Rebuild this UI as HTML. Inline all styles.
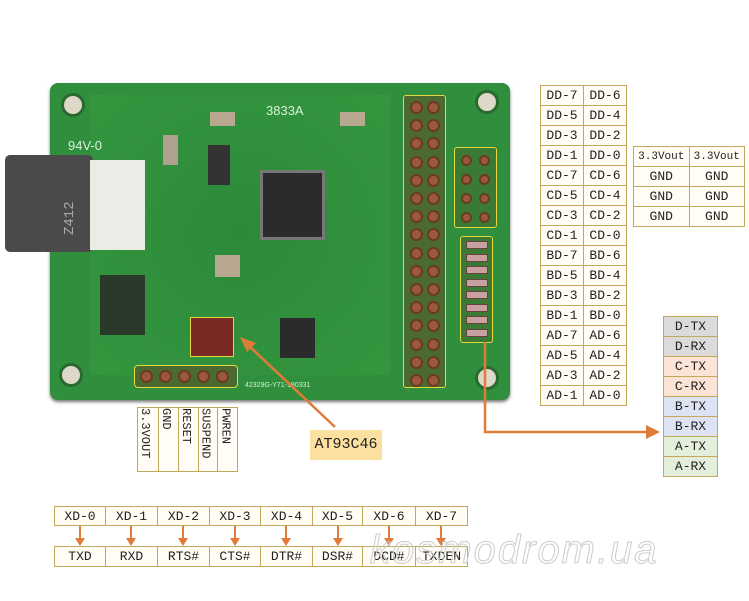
<!DOCTYPE html><html><head><meta charset="utf-8"><style>
body{margin:0;width:749px;height:601px;background:#fff;position:relative;overflow:hidden;font-family:"Liberation Serif","Noto Serif CJK SC",serif;}
.a{position:absolute;box-sizing:border-box}
table{position:absolute;border-collapse:collapse;font-family:"Liberation Mono",monospace;font-size:13px;color:#222}
td{border:1.5px solid #c2a95a;text-align:center;padding:0;background:#fffdf6}
.fx{table-layout:fixed}
.hole{position:absolute;width:9px;height:9px;border-radius:50%;background:#9a5a3a;border:2px solid #6b3a22;box-sizing:border-box}
.mh{position:absolute;width:24px;height:24px;border-radius:50%;background:#ddd8c8;border:3px solid #2a6a30;box-sizing:border-box}
</style></head><body>
<div class="a" style="left:50px;top:83px;width:460px;height:317px;background:#2f8f3c;border-radius:8px;box-shadow:0 2px 3px #777"></div>
<div class="a" style="left:90px;top:95px;width:300px;height:280px;background:radial-gradient(ellipse at 50% 50%,#2c8a39,#34963f)"></div>
<div class="mh" style="left:61px;top:93px"></div><div class="mh" style="left:475px;top:90px"></div>
<div class="mh" style="left:59px;top:363px"></div><div class="mh" style="left:475px;top:366px"></div>
<div class="a" style="left:68px;top:138px;color:#d8f0d8;font:13px 'Liberation Sans',sans-serif">94V-0</div>
<div class="a" style="left:266px;top:103px;color:#d8f0d8;font:13px 'Liberation Sans',sans-serif">3833A</div>
<div class="a" style="left:245px;top:382px;color:#d8f0d8;font:7px 'Liberation Sans',sans-serif">42329G-Y71-180331</div>
<div class="a" style="left:5px;top:155px;width:88px;height:97px;background:#4a4a4a;border-radius:5px"></div>
<div class="a" style="left:90px;top:160px;width:55px;height:90px;background:#ecece6"></div>
<div class="a" style="left:62px;color:#aaa;font:14px 'Liberation Mono',monospace;transform:rotate(-90deg);transform-origin:0 0;top:235px">Z412</div>
<div class="a" style="left:260px;top:170px;width:65px;height:70px;background:#2b2b2b;border:3px solid #777"></div>
<div class="a" style="left:280px;top:318px;width:35px;height:40px;background:#2b2b2b"></div>
<div class="a" style="left:208px;top:145px;width:22px;height:40px;background:#333"></div>
<div class="a" style="left:100px;top:275px;width:45px;height:60px;background:#2a3a2a"></div>
<div class="a" style="left:210px;top:112px;width:25px;height:14px;background:#b8a890"></div>
<div class="a" style="left:340px;top:112px;width:25px;height:14px;background:#b8a890"></div>
<div class="a" style="left:215px;top:255px;width:25px;height:22px;background:#b8a890"></div>
<div class="a" style="left:163px;top:135px;width:15px;height:30px;background:#b0a090"></div>
<div class="a" style="left:190px;top:317px;width:44px;height:40px;border:1.5px solid #e8d840;background:#7a2a22"></div>
<div class="a" style="left:403px;top:95px;width:43px;height:293px;border:1.5px solid #e8d840;border-radius:3px;background:#4a6a30"></div>
<div class="a" style="left:454px;top:147px;width:43px;height:81px;border:1.5px solid #e8d840;border-radius:3px;background:#3a7a35"></div>
<div class="a" style="left:460px;top:236px;width:33px;height:107px;border:1.5px solid #e8d840;border-radius:3px;background:#3a7a35"></div>
<div class="a" style="left:134px;top:365px;width:104px;height:23px;border:1.5px solid #e8d840;border-radius:4px;background:#4a6a30"></div>
<div id="pins"></div>
<script>
var h='';for(var i=0;i<16;i++){h+='<div class="hole" style="left:410px;top:'+(101+i*18.2)+'px;width:13px;height:13px"></div><div class="hole" style="left:427px;top:'+(101+i*18.2)+'px;width:13px;height:13px"></div>';}
for(i=0;i<4;i++){h+='<div class="hole" style="left:461px;top:'+(155+i*19)+'px;width:11px;height:11px"></div><div class="hole" style="left:479px;top:'+(155+i*19)+'px;width:11px;height:11px"></div>';}
for(i=0;i<8;i++){h+='<div class="a" style="left:466px;top:'+(241+i*12.5)+'px;width:22px;height:8px;background:#c9a0a0;border:1px solid #6a4040"></div>';}
for(i=0;i<5;i++){h+='<div class="hole" style="left:'+(140+i*19)+'px;top:370px;width:13px;height:13px"></div>';}
document.getElementById('pins').innerHTML=h;
</script>
<svg class="a" style="left:0;top:0" width="749" height="601">
<g stroke="#e07b39" stroke-width="2.5" fill="none"><line x1="335" y1="427" x2="248" y2="345"/><polyline points="485,342 485,432 650,432"/></g>
<polygon points="240,337 256,343 247,352" fill="#e07b39"/>
<polygon points="660,432 646,425 646,439" fill="#e07b39"/>
<g stroke="#e07b39" stroke-width="2"><line x1="80" y1="525" x2="80" y2="540"/><line x1="131" y1="525" x2="131" y2="540"/><line x1="183" y1="525" x2="183" y2="540"/><line x1="235" y1="525" x2="235" y2="540"/><line x1="286" y1="525" x2="286" y2="540"/><line x1="338" y1="525" x2="338" y2="540"/><line x1="389" y1="525" x2="389" y2="540"/><line x1="441" y1="525" x2="441" y2="540"/></g>
<g fill="#e07b39"><polygon points="75,538 85,538 80,546"/><polygon points="126,538 136,538 131,546"/><polygon points="178,538 188,538 183,546"/><polygon points="230,538 240,538 235,546"/><polygon points="281,538 291,538 286,546"/><polygon points="333,538 343,538 338,546"/><polygon points="384,538 394,538 389,546"/><polygon points="436,538 446,538 441,546"/></g>
</svg>
<div class="a" style="left:310px;top:430px;width:72px;height:30px;background:#fbe0a0;font:15px 'Liberation Mono',monospace;line-height:30px;text-align:center;color:#222">AT93C46</div>
<table style="left:540px;top:85px;width:87px">
<tr style="height:20px"><td>DD-7</td><td>DD-6</td></tr><tr style="height:20px"><td>DD-5</td><td>DD-4</td></tr><tr style="height:20px"><td>DD-3</td><td>DD-2</td></tr><tr style="height:20px"><td>DD-1</td><td>DD-0</td></tr>
<tr style="height:20px"><td>CD-7</td><td>CD-6</td></tr><tr style="height:20px"><td>CD-5</td><td>CD-4</td></tr><tr style="height:20px"><td>CD-3</td><td>CD-2</td></tr><tr style="height:20px"><td>CD-1</td><td>CD-0</td></tr>
<tr style="height:20px"><td>BD-7</td><td>BD-6</td></tr><tr style="height:20px"><td>BD-5</td><td>BD-4</td></tr><tr style="height:20px"><td>BD-3</td><td>BD-2</td></tr><tr style="height:20px"><td>BD-1</td><td>BD-0</td></tr>
<tr style="height:20px"><td>AD-7</td><td>AD-6</td></tr><tr style="height:20px"><td>AD-5</td><td>AD-4</td></tr><tr style="height:20px"><td>AD-3</td><td>AD-2</td></tr><tr style="height:20px"><td>AD-1</td><td>AD-0</td></tr>
</table>
<table style="left:633px;top:146px;width:112px;font-size:11px">
<tr style="height:20px"><td>3.3Vout</td><td>3.3Vout</td></tr>
<tr style="height:20px;font-size:13px"><td>GND</td><td>GND</td></tr><tr style="height:20px;font-size:13px"><td>GND</td><td>GND</td></tr><tr style="height:20px;font-size:13px"><td>GND</td><td>GND</td></tr>
</table>
<table style="left:663px;top:316px;width:55px">
<tr style="height:20px"><td style="background:#dcdada">D-TX</td></tr><tr style="height:20px"><td style="background:#dcdada">D-RX</td></tr>
<tr style="height:20px"><td style="background:#fbe4d6">C-TX</td></tr><tr style="height:20px"><td style="background:#fbe4d6">C-RX</td></tr>
<tr style="height:20px"><td style="background:#dde3f3">B-TX</td></tr><tr style="height:20px"><td style="background:#dde3f3">B-RX</td></tr>
<tr style="height:20px"><td style="background:#e3eedb">A-TX</td></tr><tr style="height:20px"><td style="background:#e3eedb">A-RX</td></tr>
</table>
<table style="left:137px;top:407px;width:101px;height:65px;font-size:12px">
<tr><td style="vertical-align:top;width:20px"><div style="writing-mode:vertical-rl">3.3VOUT</div></td><td style="vertical-align:top"><div style="writing-mode:vertical-rl">GND</div></td><td style="vertical-align:top"><div style="writing-mode:vertical-rl">RESET</div></td><td style="vertical-align:top"><div style="writing-mode:vertical-rl">SUSPEND</div></td><td style="vertical-align:top"><div style="writing-mode:vertical-rl">PWREN</div></td></tr>
</table>
<table class="fx" style="left:54px;top:506px;width:413px">
<colgroup><col style="width:51px"><col style="width:52px"><col style="width:52px"><col style="width:51px"><col style="width:52px"><col style="width:50px"><col style="width:53px"><col style="width:52px"></colgroup>
<tr style="height:19px"><td>XD-0</td><td>XD-1</td><td>XD-2</td><td>XD-3</td><td>XD-4</td><td>XD-5</td><td>XD-6</td><td>XD-7</td></tr></table>
<table class="fx" style="left:54px;top:546px;width:413px">
<colgroup><col style="width:51px"><col style="width:52px"><col style="width:52px"><col style="width:51px"><col style="width:52px"><col style="width:50px"><col style="width:53px"><col style="width:52px"></colgroup>
<tr style="height:20px"><td>TXD</td><td>RXD</td><td>RTS#</td><td>CTS#</td><td>DTR#</td><td>DSR#</td><td>DCD#</td><td>TXDEN</td></tr></table>
<div class="a" style="left:370px;top:528px;font:italic 40px 'Liberation Sans',sans-serif;color:transparent;-webkit-text-stroke:1px #ccc;letter-spacing:2px">kosmodrom.ua</div>
</body></html>
